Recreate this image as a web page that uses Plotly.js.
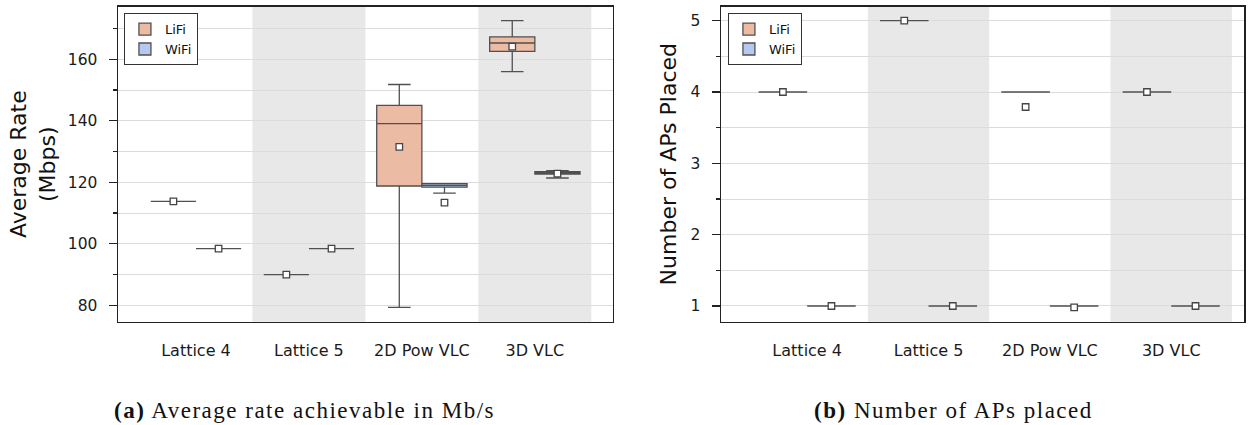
<!DOCTYPE html>
<html>
<head>
<meta charset="utf-8">
<script src="https://cdn.plot.ly/plotly-3.0.1.min.js"></script>
<style>
  html, body { margin: 0; padding: 0; background: #fff; }
  #chart { width: 1257px; height: 425px; }
  .annotation-text { letter-spacing: 1.5px; }
</style>
</head>
<body>
<div id="chart"></div>
<script>
// Placement strategies on the x axis
const categories = ['Lattice 4', 'Lattice 5', '2D Pow VLC', '3D VLC'];
const shadedCategories = [1, 3];

// Average rate achievable (Mbps) - LiFi box statistics
const rateLifiLow    = [113.8, 90.0,  79.3, 156.0];
const rateLifiQ1     = [113.8, 90.0, 118.8, 162.6];
const rateLifiMedian = [113.8, 90.0, 139.1, 165.3];
const rateLifiQ3     = [113.8, 90.0, 145.0, 167.3];
const rateLifiHigh   = [113.8, 90.0, 151.8, 172.6];
const rateLifiMean   = [113.8, 90.0, 131.5, 164.1];

// Average rate achievable (Mbps) - WiFi box statistics
const rateWifiLow    = [98.4, 98.4, 116.5, 121.4];
const rateWifiQ1     = [98.4, 98.4, 118.4, 122.7];
const rateWifiMedian = [98.4, 98.4, 119.0, 123.2];
const rateWifiQ3     = [98.4, 98.4, 119.6, 123.5];
const rateWifiHigh   = [98.4, 98.4, 119.6, 123.8];
const rateWifiMean   = [98.4, 98.4, 113.4, 122.8];

// Number of access points placed
const apsLifi     = [4, 5, 4, 4];
const apsLifiMean = [4, 5, 3.79, 4];
const apsWifi     = [1, 1, 1, 1];
const apsWifiMean = [1, 1, 0.98, 1];

const LIFI_FILL = '#ecbba4';
const WIFI_FILL = '#b4c8f0';
const EDGE = '#505050';
const DODGE = 0.2;
const BOX_W = 0.4;

const idx = categories.map((_, i) => i);
const lifiX = idx.map(i => i - DODGE);
const wifiX = idx.map(i => i + DODGE);

function boxTrace(name, x, low, q1, med, q3, high, fill, xa, ya, legend, showLegend) {
  return {
    type: 'box', name: name, x: x,
    lowerfence: low, q1: q1, median: med, q3: q3, upperfence: high,
    width: BOX_W, whiskerwidth: 0.5,
    fillcolor: fill, line: { color: EDGE, width: 1.3 },
    boxpoints: false, hoverinfo: 'skip',
    xaxis: xa, yaxis: ya, legend: legend, showlegend: showLegend
  };
}

function meanTrace(x, y, xa, ya) {
  return {
    type: 'scatter', mode: 'markers', x: x, y: y,
    marker: { symbol: 'square', size: 6.5, color: '#ffffff', line: { color: '#444', width: 1.3 } },
    xaxis: xa, yaxis: ya, showlegend: false, hoverinfo: 'skip'
  };
}

const traces = [
  boxTrace('LiFi', lifiX, rateLifiLow, rateLifiQ1, rateLifiMedian, rateLifiQ3, rateLifiHigh, LIFI_FILL, 'x', 'y', 'legend', true),
  boxTrace('WiFi', wifiX, rateWifiLow, rateWifiQ1, rateWifiMedian, rateWifiQ3, rateWifiHigh, WIFI_FILL, 'x', 'y', 'legend', true),
  meanTrace(lifiX, rateLifiMean, 'x', 'y'),
  meanTrace(wifiX, rateWifiMean, 'x', 'y'),
  boxTrace('LiFi', lifiX, apsLifi, apsLifi, apsLifi, apsLifi, apsLifi, LIFI_FILL, 'x2', 'y2', 'legend2', true),
  boxTrace('WiFi', wifiX, apsWifi, apsWifi, apsWifi, apsWifi, apsWifi, WIFI_FILL, 'x2', 'y2', 'legend2', true),
  meanTrace(lifiX, apsLifiMean, 'x2', 'y2'),
  meanTrace(wifiX, apsWifiMean, 'x2', 'y2')
];

const GRID = '#dcdcdc';
const FONT = 'DejaVu Sans, sans-serif';

function xAxis(domain, range, anchor) {
  return {
    domain: domain, range: range, anchor: anchor,
    tickvals: idx, ticktext: categories,
    ticks: 'outside', ticklen: 14, tickcolor: 'rgba(0,0,0,0)',
    tickfont: { family: FONT, size: 16, color: '#1a1a1a' },
    showgrid: false, zeroline: false,
    showline: true, mirror: true, linecolor: '#222', linewidth: 1.5
  };
}

function yAxis(domain, range, anchor, dtick, minorDtick, title, standoff) {
  return {
    domain: domain, range: range, anchor: anchor,
    dtick: dtick, tick0: 0,
    ticks: 'outside', ticklen: 8, tickwidth: 1.2, tickcolor: '#222',
    ticklabelstandoff: 8,
    tickfont: { family: FONT, size: 15.5, color: '#1a1a1a' },
    showgrid: true, gridcolor: GRID, gridwidth: 1,
    minor: { dtick: minorDtick, tick0: 0, ticks: 'outside', ticklen: 4, tickwidth: 1.1, tickcolor: '#222', showgrid: true, gridcolor: GRID, gridwidth: 1 },
    zeroline: false, showline: true, mirror: true, linecolor: '#222', linewidth: 1.5,
    title: { text: title, font: { family: FONT, size: 22, color: '#111' }, standoff: standoff }
  };
}

function bands(xref) {
  return shadedCategories.map(i => ({
    type: 'rect', xref: xref, yref: (xref === 'x' ? 'y' : 'y2') + ' domain',
    x0: i - 0.5, x1: i + 0.5, y0: 0, y1: 1,
    fillcolor: '#e8e8e8', line: { width: 0 }, layer: 'below'
  }));
}

function legendBox(x, y) {
  return {
    x: x, y: y, xref: 'paper', yref: 'paper', xanchor: 'left', yanchor: 'top',
    bgcolor: '#ffffff', bordercolor: '#333', borderwidth: 1,
    font: { family: FONT, size: 13, color: '#111' },
    tracegroupgap: 0, itemwidth: 30
  };
}

const CAPTION_FONT = { family: 'Liberation Serif, serif', size: 23, color: '#111' };

const layout = {
  width: 1257, height: 425,
  margin: { l: 0, r: 0, t: 0, b: 0 },
  paper_bgcolor: '#ffffff', plot_bgcolor: '#ffffff',
  boxmode: 'overlay',
  xaxis: xAxis([0.0939, 0.4875], [-0.69, 3.69], 'y'),
  yaxis: yAxis([0.2431, 0.9842], [74.67, 177.1], 'x', 20, 10, 'Average Rate<br>(Mbps)', 6),
  xaxis2: xAxis([0.5736, 0.9897], [-0.71, 3.60], 'y2'),
  yaxis2: yAxis([0.2431, 0.9842], [0.78, 5.196], 'x2', 1, 0.5, 'Number of APs Placed', 8),
  legend: legendBox(0.0986, 0.969),
  legend2: legendBox(0.5791, 0.969),
  shapes: bands('x').concat(bands('x2')),
  annotations: [
    { text: '<b>(a)</b> Average rate achievable in Mb/s', xref: 'paper', yref: 'paper', x: 0.2426, y: 0.033, xanchor: 'center', yanchor: 'middle', showarrow: false, font: CAPTION_FONT },
    { text: '<b>(b)</b> Number of APs placed', xref: 'paper', yref: 'paper', x: 0.7585, y: 0.033, xanchor: 'center', yanchor: 'middle', showarrow: false, font: CAPTION_FONT }
  ]
};

Plotly.newPlot('chart', traces, layout, { staticPlot: true, displayModeBar: false });
</script>
</body>
</html>
